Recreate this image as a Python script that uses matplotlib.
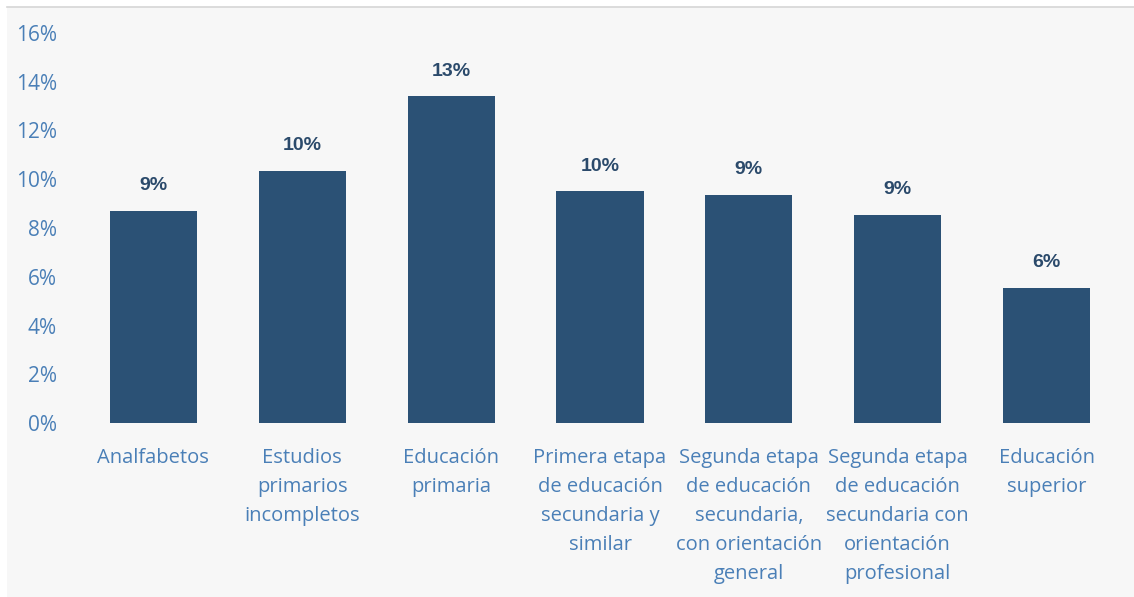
import matplotlib.pyplot as plt
from matplotlib.patches import Rectangle
from matplotlib.lines import Line2D

categories = [
    'Analfabetos',
    'Estudios\nprimarios\nincompletos',
    'Educación\nprimaria',
    'Primera etapa\nde educación\nsecundaria y\nsimilar',
    'Segunda etapa\nde educación\nsecundaria,\ncon orientación\ngeneral',
    'Segunda etapa\nde educación\nsecundaria con\norientación\nprofesional',
    'Educación\nsuperior',
]
values = [8.7, 10.35, 13.4, 9.5, 9.35, 8.55, 5.55]
value_labels = ['9%', '10%', '13%', '10%', '9%', '9%', '6%']
yticks = [0, 2, 4, 6, 8, 10, 12, 14, 16]

bar_color = '#2b5175'
tick_color = '#4a7fb7'
label_color = '#2b4a6b'
bg_color = '#f7f7f7'

plt.rcParams['font.family'] = ['Open Sans', 'DejaVu Sans']

fig = plt.figure(figsize=(11.34, 5.97), dpi=100)
fig.patch.set_facecolor('white')
W, H = 1134, 597
fig.patches.append(Rectangle((7 / W, 0), 1 - 7 / W, 1 - 7 / H, transform=fig.transFigure,
                             facecolor=bg_color, edgecolor='none', zorder=-10))
fig.lines.append(Line2D([7 / W, 1], [1 - 7 / H, 1 - 7 / H], transform=fig.transFigure,
                        color='#d6d6d6', linewidth=1.2, zorder=-9))

ax = fig.add_axes([79 / W, 1 - 423 / H, (1121 - 79) / W, (423 - 33) / H])
ax.set_facecolor('none')
ax.set_zorder(5)

x = range(len(categories))
bars = ax.bar(x, values, width=0.585, color=bar_color)
for b, lab in zip(bars, value_labels):
    ax.annotate(lab, (b.get_x() + b.get_width() / 2, b.get_height()),
                xytext=(0, 12), textcoords='offset points', ha='center', va='bottom',
                fontsize=14, fontweight='bold', color=label_color,
                family=['Liberation Sans', 'DejaVu Sans'])

ax.set_xlim(-0.5, len(categories) - 0.5)
ax.set_ylim(0, 16)
ax.set_yticks(yticks)
ax.set_yticklabels([f'{t}%' for t in yticks])
ax.set_xticks(list(x))
ax.set_xticklabels(categories, linespacing=1.6)
ax.tick_params(axis='y', length=0, pad=16, labelsize=15, labelcolor=tick_color)
ax.tick_params(axis='x', length=0, pad=18, labelsize=14.5, labelcolor=tick_color)
for s in ax.spines.values():
    s.set_visible(False)

fig.savefig('out.png', dpi=100, facecolor=fig.get_facecolor())
